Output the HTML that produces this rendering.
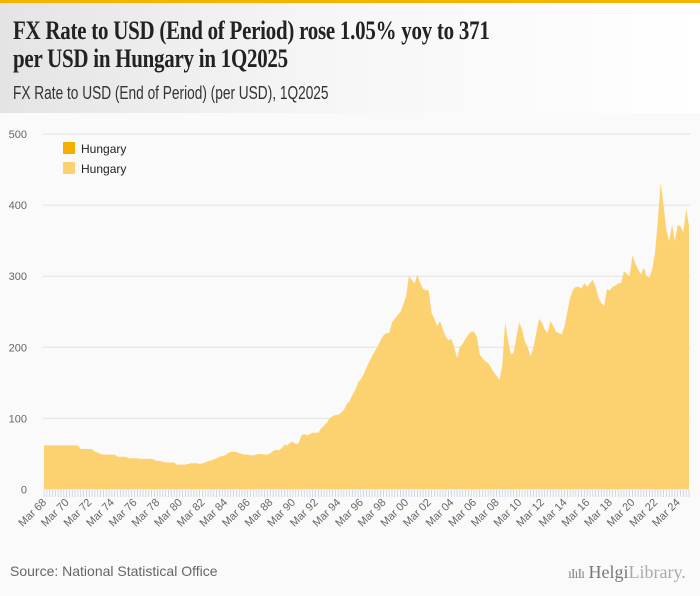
<!DOCTYPE html>
<html><head><meta charset="utf-8">
<style>
body{margin:0;width:700px;height:596px;overflow:hidden;background:#fafafa;font-family:"Liberation Sans",sans-serif;}
#topbar{position:absolute;left:0;top:0;width:700px;height:3px;background:#f5b400;}
#header{position:absolute;left:0;top:3px;width:700px;height:110px;background:linear-gradient(90deg,#e4e4e4 0%,#f6f6f6 45%,#ffffff 100%);}
#title{position:absolute;left:13px;top:14px;font-family:"Liberation Serif",serif;font-weight:bold;font-size:26px;line-height:28px;color:#222;letter-spacing:-0.3px;margin:0;white-space:nowrap;transform:scaleX(0.805);transform-origin:0 0;}
#subtitle{position:absolute;left:13px;top:80px;font-size:18px;color:#333;white-space:nowrap;transform:scaleX(0.76);transform-origin:0 0;}
#source{position:absolute;left:10px;top:563px;font-size:14px;color:#666;}
#logo{position:absolute;left:568px;top:562px;font-family:"Liberation Serif",serif;font-size:18px;color:#888;}
</style></head><body>
<div id="topbar"></div>
<div id="header">
<h1 id="title">FX Rate to USD (End of Period) rose 1.05% yoy to 371<br>per USD in Hungary in 1Q2025</h1>
<div id="subtitle">FX Rate to USD (End of Period) (per USD), 1Q2025</div>
</div>
<svg id="chart" width="700" height="596" style="position:absolute;left:0;top:0" xmlns="http://www.w3.org/2000/svg"></svg>
<div id="source">Source: National Statistical Office</div>
<div id="logo"><span style="font-size:14px;letter-spacing:-1px">ıIıIı</span> <span style="color:#777">Helgi</span><span style="color:#aaa">Library.</span></div>
<script>
const startYear = 1968;
const values = [
62,62,62,62, 62,62,62,62, 62,62,62,62, 62,57,57,57, 57,57,53,52,
50,49,49,49, 49,49,46,46, 46,46,44,44, 44,44,43,43, 43,43,43,42,
40,40,39,38, 38,38,38,35, 35,35,35,36, 37,37,37,36, 37,38,40,41,
42,44,46,47, 48,51,53,53, 53,51,50,49, 49,48,48,49, 50,50,49,49,
51,54,56,55, 58,63,62,66, 67,64,65,76, 78,76,78,80, 80,80,86,90,
94,100,103,105, 105,108,112,120, 124,133,140,150, 155,162,172,180, 188,195,202,210,
217,220,220,235, 240,245,250,260, 272,300,295,290, 302,290,282,280, 280,248,240,230,
237,225,215,210, 212,200,185,200, 205,212,218,222, 222,215,190,185, 180,178,172,165,
160,154,175,235, 210,190,192,215, 235,225,208,200, 187,200,220,240, 235,225,220,237,
230,222,220,218, 230,250,270,281, 285,285,283,290, 285,290,295,285, 270,262,258,282,
280,285,287,290, 290,307,303,300, 329,318,310,302, 312,300,298,310, 333,380,432,400,
365,349,372,350, 372,370,362,395, 371];
const yTicks = [0,100,200,300,400,500];
const legendLabels = ["Hungary","Hungary"];

const svg = document.getElementById('chart');
const NS = 'http://www.w3.org/2000/svg';
const x0 = 44, x1 = 689, yBase = 489.5, yTop = 134;
const xScale = i => x0 + i * (x1 - x0) / (values.length - 1);
const yScale = v => yBase - v * (yBase - yTop) / 500;
function mk(tag, attrs){const e=document.createElementNS(NS,tag);for(const k in attrs)e.setAttribute(k,attrs[k]);svg.appendChild(e);return e;}

yTicks.forEach(t=>{
  if(t>0){const g=mk('line',{x1:43,x2:690,y1:yScale(t),y2:yScale(t),stroke:'#e2e2e2','stroke-width':1});
  
  }
  const l=mk('text',{x:27,y:yScale(t)+4,'text-anchor':'end','font-size':11,fill:'#666','font-family':'Liberation Sans, sans-serif'});
  l.textContent=t;
  
  
});

let d='M'+xScale(0)+','+yBase;
values.forEach((v,i)=>{d+=' L'+xScale(i).toFixed(2)+','+yScale(v).toFixed(2);});
d+=' L'+xScale(values.length-1)+','+yBase+' Z';
const area=mk('path',{d:d,fill:'#fcd271'});



values.forEach((v,i)=>{
  const tk=mk('line',{x1:xScale(i),x2:xScale(i),y1:490,y2:497,stroke:'#c5d0e6','stroke-width':0.8});
  
  
});
for(let i=0;i<values.length;i+=8){
  const yr=String((startYear+Math.floor(i/4))%100).padStart(2,'0');
  const x=xScale(i)+3, y=503;
  const t=mk('text',{x:x,y:y,'text-anchor':'end','font-size':11,fill:'#666','font-family':'Liberation Sans, sans-serif',transform:'rotate(-45 '+x+' '+y+')'});
  t.textContent='Mar '+yr;
  
  
}

const legColors=['#f5ad00','#fcd271'];
legendLabels.forEach((lab,i)=>{
  const r=mk('rect',{x:63,y:142+i*20,width:12,height:12,fill:legColors[i]});
  
  
  const t=mk('text',{x:81,y:153+i*20,'font-size':12,fill:'#222','font-family':'Liberation Sans, sans-serif'});
  t.textContent=lab;
  
  
});
</script>
</body></html>
